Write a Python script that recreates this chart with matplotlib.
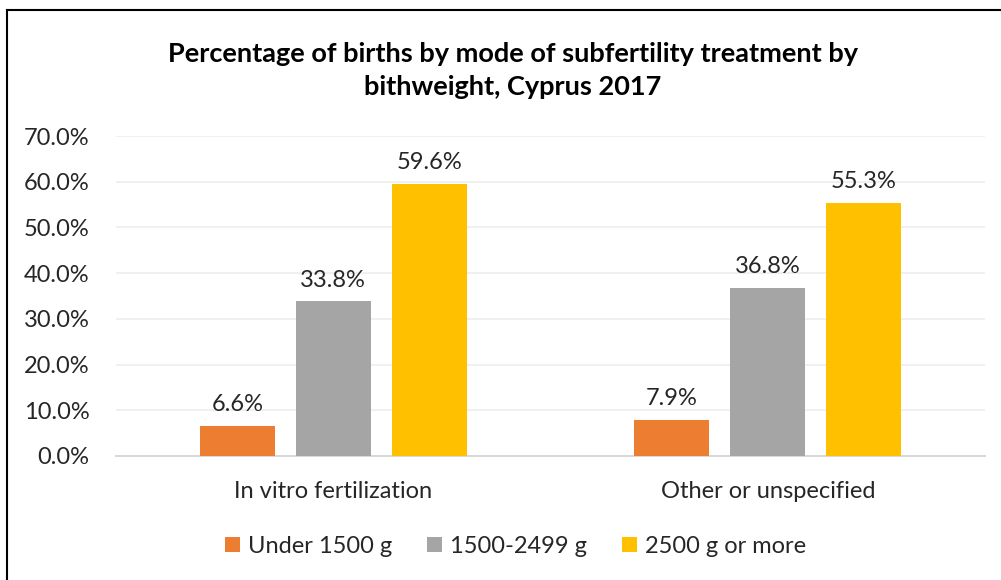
import matplotlib.pyplot as plt
import numpy as np

categories = ['In vitro fertilization', 'Other or unspecified']
series_names = ['Under 1500 g', '1500-2499 g', '2500 g or more']
values = [
    [6.6, 7.9],
    [33.8, 36.8],
    [59.6, 55.3],
]
colors = ['#ED7D31', '#A5A5A5', '#FFC000']
yticks = [0, 10, 20, 30, 40, 50, 60, 70]

plt.rcParams['font.family'] = ['Lato', 'DejaVu Sans']

fig = plt.figure(figsize=(10.01, 5.8), dpi=100)
ax = fig.add_axes([0.116, 0.2138, 0.868, 0.5517])

x = np.arange(len(categories))
width = 0.173
step = 0.221
handles = []
for i, (name, vals) in enumerate(zip(series_names, values)):
    pos = x + (i - 1) * step
    b = ax.bar(pos, vals, width, color=colors[i], label=name, zorder=3)
    handles.append(b)
    for p, v in zip(pos, vals):
        ax.text(p, v + 2.4, '%.1f%%' % v, ha='center', va='bottom', fontsize=17, color='#262626')

ax.set_xlim(-0.5, 1.5)
ax.set_ylim(0, 70)
ax.set_yticks(yticks)
ax.set_yticklabels(['%.1f%%' % t for t in yticks], fontsize=17, color='#262626')
ax.set_xticks(x)
ax.set_xticklabels(categories, fontsize=17, color='#262626')
ax.tick_params(axis='both', length=0)
ax.tick_params(axis='y', pad=19)
ax.tick_params(axis='x', pad=18)
ax.yaxis.grid(True, color='#EEEEEE', linewidth=1.2, zorder=0)
for s in ['top', 'right', 'left']:
    ax.spines[s].set_visible(False)
ax.spines['bottom'].set_color('#D9D9D9')
ax.spines['bottom'].set_linewidth(1.5)

fig.text(0.512, 0.879, 'Percentage of births by mode of subfertility treatment by\nbithweight, Cyprus 2017',
         ha='center', va='center', fontsize=19.5, fontweight='bold', linespacing=1.45, color='black')

fig.legend(handles=handles, labels=series_names, loc='center', bbox_to_anchor=(0.515, 0.058),
           ncol=3, frameon=False, fontsize=17, handlelength=0.65, handleheight=0.65,
           handletextpad=0.35, columnspacing=1.45, labelcolor='#262626')

# chart border (left and top visible)
fig.add_artist(plt.Line2D([0.007, 0.007], [0, 0.983], color='black', linewidth=1.5, transform=fig.transFigure))
fig.add_artist(plt.Line2D([0.007, 1.0], [0.983, 0.983], color='black', linewidth=1.5, transform=fig.transFigure))

fig.savefig('out.png', dpi=100)
